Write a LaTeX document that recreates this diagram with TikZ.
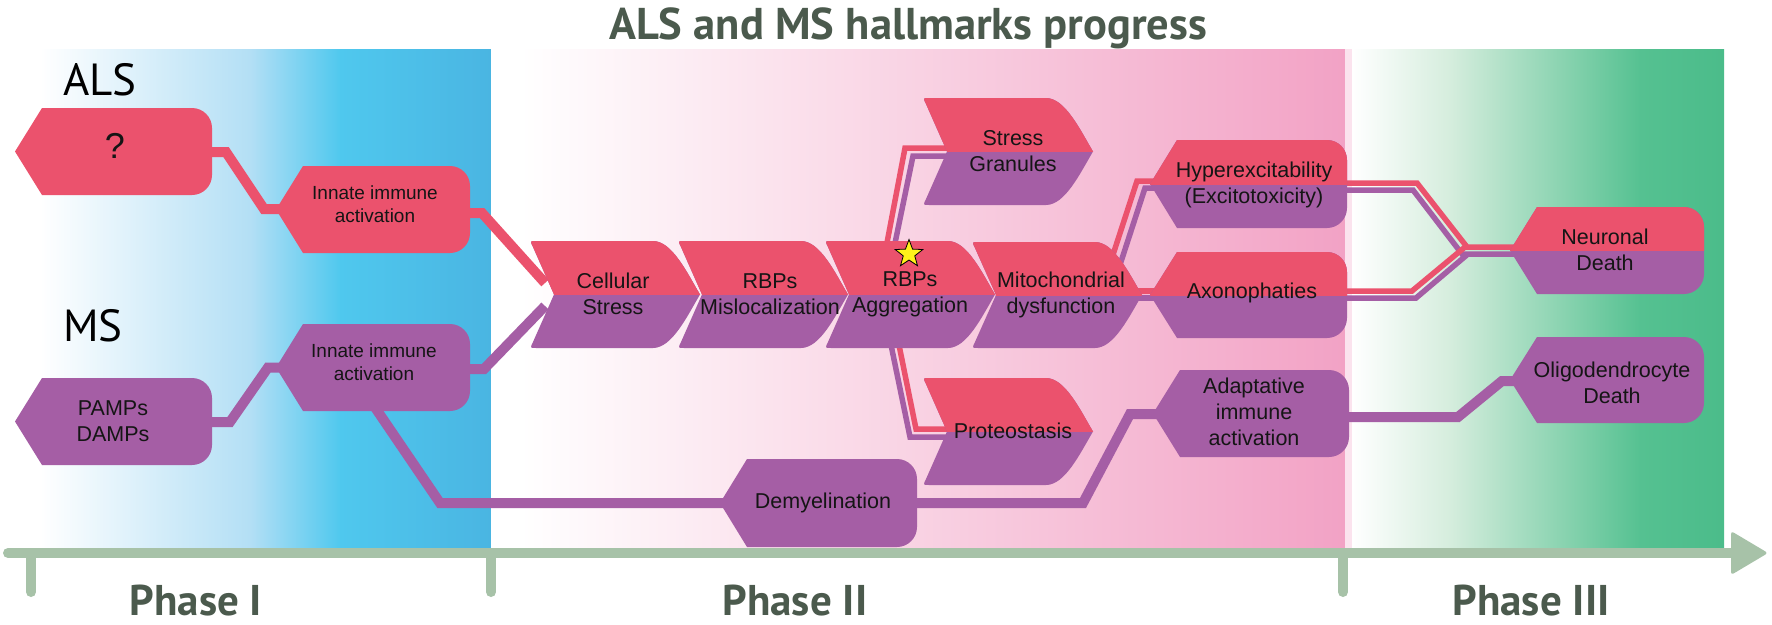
\documentclass[tikz,border=0pt]{standalone}
\usepackage{fontspec}
\setmainfont{Liberation Sans}
\newfontfamily\ptsans{PT Sans}
\usetikzlibrary{shapes.geometric}
\definecolor{alsred}{HTML}{EB526D}
\definecolor{mspurple}{HTML}{A55EA5}
\definecolor{axisgreen}{HTML}{A7C2A8}
\definecolor{darklabel}{HTML}{4B5A4D}
\definecolor{blueA}{HTML}{B3DFF5}
\definecolor{blueB}{HTML}{4FC8EE}
\definecolor{blueC}{HTML}{4AB5E2}
\definecolor{pinkB}{HTML}{F2A2C5}
\definecolor{pinkStrip}{HTML}{FBE3EE}
\definecolor{greenA}{HTML}{D5EDDD}
\definecolor{greenB}{HTML}{55C191}
\definecolor{greenC}{HTML}{4BBC8A}
\definecolor{txt}{HTML}{151515}
\definecolor{staryellow}{HTML}{FFF21A}

% hexagon-like node: left point, rounded right corners
\newcommand\hexfill[5]{%
  \fill[#5] ({#1+27},{#2}) -- ({#3-20},{#2}) arc[start angle=-90,end angle=0,radius=20]
    -- ({#3},{#4-20}) arc[start angle=0,end angle=90,radius=20]
    -- ({#1+27},{#4}) -- ({#1},{(#2+#4)/2}) -- cycle;}
\newcommand\hexbi[4]{%
  \hexfill{#1}{#2}{#3}{#4}{mspurple}%
  \begin{scope}\clip ({#1-5},{#2-5}) rectangle ({#3+5},{(#2+#4)/2});
  \hexfill{#1}{#2}{#3}{#4}{alsred}\end{scope}}
% chevron node: notch left, point right
\newcommand\chevfill[4]{%
  \fill[#4] ({#1+6},{#2}) -- ({#1+123},{#2})
    .. controls ({#1+142},{#2}) and ({#1+157},{(#2+#3)/2-22}) .. ({#1+170},{(#2+#3)/2})
    .. controls ({#1+157},{(#2+#3)/2+22}) and ({#1+142},{#3}) .. ({#1+123},{#3})
    -- ({#1+6},{#3}) .. controls ({#1},{#3}) .. ({#1+3},{#3-6})
    -- ({#1+24},{(#2+#3)/2}) -- ({#1+3},{#2+6}) .. controls ({#1},{#2}) .. ({#1+6},{#2}) -- cycle;}
\newcommand\chevbi[3]{%
  \chevfill{#1}{#2}{#3}{mspurple}%
  \begin{scope}\clip ({#1-5},{#2-5}) rectangle ({#1+180},{(#2+#3)/2});
  \chevfill{#1}{#2}{#3}{alsred}\end{scope}}

\tikzset{
  redline/.style={draw=alsred, line width=10pt},
  purline/.style={draw=mspurple, line width=10pt},
  redthin/.style={draw=alsred, line width=5.5pt},
  purthin/.style={draw=mspurple, line width=5.5pt},
  ntext/.style={font=\fontsize{21.5}{26}\selectfont, align=center, text=txt, inner sep=0},
  itext/.style={font=\fontsize{19}{23}\selectfont, align=center, text=txt, inner sep=0},
  phase/.style={font=\ptsans\bfseries\fontsize{43}{43}\selectfont, text=darklabel, anchor=base, inner sep=0},
  titletext/.style={font=\ptsans\bfseries\fontsize{44.5}{44.5}\selectfont, text=darklabel, anchor=base, inner sep=0},
  big/.style={font=\ptsans\fontsize{45}{45}\selectfont, text=black, anchor=base west, inner sep=0},
  axisline/.style={draw=axisgreen, line width=10pt, line cap=round},
}

\begin{document}
\begin{tikzpicture}[x=1pt,y=-1pt]
\useasboundingbox (0,0) rectangle (1772,624);
\fill[white] (0,0) rectangle (1772,624);

% ---- phase backgrounds ----
\fill[white] (0,49) rectangle (41,548);
\shade[left color=white,right color=blueA] (40,49) rectangle (251,548);
\shade[left color=blueA,right color=blueB] (250,49) rectangle (341,548);
\shade[left color=blueB,right color=blueC] (340,49) rectangle (491,548);
\fill[white] (491,49) rectangle (521,548);
\shade[left color=white,right color=pinkB] (520,49) rectangle (1345,548);
\fill[pinkStrip] (1345,49) rectangle (1352,548);
\shade[left color=white,right color=greenA] (1352,49) rectangle (1451,548);
\shade[left color=greenA,right color=greenB] (1450,49) rectangle (1641,548);
\shade[left color=greenB,right color=greenC] (1640,49) rectangle (1724,548);

% ---- title and labels ----
\node[titletext] (title) at (908,39) {ALS and MS hallmarks progress};
\node[big] (als) at (63,95) {ALS};
\node[big] (ms) at (63,341) {MS};

% ---- time axis ----
\draw[axisline] (8,553) -- (1745,553);
\fill[axisgreen, rounded corners=3] (1731,531) -- (1768,553) -- (1731,575) -- cycle;
\draw[axisline] (31,553) -- (31,592);
\draw[axisline] (491,553) -- (491,592);
\draw[axisline] (1343,553) -- (1343,592);
\node[phase] (p1) at (196,615) {Phase I};
\node[phase] (p2) at (795,615) {Phase II};
\node[phase] (p3) at (1531,615) {Phase III};

% ---- connector ports ----
\coordinate (q-out) at (205,152);
\coordinate (innA-in) at (282,209);
\coordinate (innA-out) at (465,213);
\coordinate (cell-inA) at (545,283);
\coordinate (pamps-out) at (205,422);
\coordinate (innM-in) at (282,367.5);
\coordinate (innM-out) at (465,369);
\coordinate (cell-inM) at (545,306);
\coordinate (innM-down) at (370,400);
\coordinate (demy-in) at (726,503);
\coordinate (demy-out) at (910,503);
\coordinate (adapt-in) at (1160,414);
\coordinate (adapt-out) at (1340,417);
\coordinate (oligo-in) at (1516,381);

% ---- single connectors ----
\draw[redline] (q-out) -- (226,152) -- (264,209) -- (innA-in);
\draw[redline] (innA-out) -- (482,213) -- (cell-inA);
\draw[purline] (pamps-out) -- (230,422) -- (268,367.5) -- (innM-in);
\draw[purline] (innM-out) -- (484,369) -- (cell-inM);
\draw[purline] (innM-down) -- (440,503) -- (demy-in);
\draw[purline] (demy-out) -- (1083,503) -- (1130,414) -- (adapt-in);
\draw[purline] (adapt-out) -- (1458,417) -- (1502,381) -- (oligo-in);

% ---- shared (double) connectors ----
\coordinate (aggr-upR) at (886,248);
\coordinate (aggr-upP) at (894,248);
\coordinate (sg-inR) at (952,148);
\coordinate (sg-inP) at (952,156);
\coordinate (aggr-dnP) at (890,340);
\coordinate (aggr-dnR) at (898,340);
\coordinate (prot-inR) at (952,429);
\coordinate (prot-inP) at (952,437);
\coordinate (mito-upR) at (1108,270);
\coordinate (mito-upP) at (1117,274);
\coordinate (hyp-inR) at (1156,181);
\coordinate (hyp-inP) at (1156,188);
\coordinate (mito-oR) at (1135,291);
\coordinate (mito-oP) at (1135,298);
\coordinate (axo-inR) at (1160,291);
\coordinate (axo-inP) at (1160,298);
\coordinate (hyp-oR) at (1340,183);
\coordinate (hyp-oP) at (1340,190);
\coordinate (axo-oR) at (1340,291);
\coordinate (axo-oP) at (1340,298);
\coordinate (neu-inR) at (1516,247);
\coordinate (neu-inP) at (1516,254);

\draw[purthin] (aggr-upP) -- (913,156) -- (sg-inP);
\draw[redthin] (aggr-upR) -- (905,148) -- (sg-inR);
\draw[purthin] (aggr-dnP) -- (910,437) -- (prot-inP);
\draw[redthin] (aggr-dnR) -- (916,429) -- (prot-inR);
\draw[purthin] (mito-upP) -- (1145,188) -- (hyp-inP);
\draw[redthin] (mito-upR) -- (1137,181) -- (hyp-inR);
\draw[purthin] (mito-oP) -- (axo-inP);
\draw[redthin] (mito-oR) -- (axo-inR);
\draw[purthin] (hyp-oP) -- (1413,190) -- (1462,254) -- (neu-inP);
\draw[purthin] (axo-oP) -- (1416,298) -- (1468,254);
\draw[redthin] (hyp-oR) -- (1417,183) -- (1467,247) -- (neu-inR);
\draw[redthin] (axo-oR) -- (1412,291) -- (1465,247);

% ---- node shapes ----
\hexfill{15}{108}{212}{195}{alsred}
\hexfill{276}{166}{470}{253}{alsred}
\hexfill{276}{324}{470}{411}{mspurple}
\hexfill{15}{378}{212}{465}{mspurple}
\hexfill{720}{459}{917}{547}{mspurple}
\hexbi{1150}{140}{1347}{228}
\hexbi{1150}{252}{1347}{338}
\hexfill{1153}{370}{1349}{457}{mspurple}
\hexbi{1510}{207}{1704}{294}
\hexfill{1510}{337}{1704}{423}{mspurple}
\chevbi{530}{241}{348}
\chevbi{678}{241}{348}
\chevbi{825}{241}{348}
\chevbi{972}{242}{348}
\chevbi{923}{98}{205}
\chevbi{923}{378}{485}

% ---- node texts ----
\node[ntext, font=\fontsize{36}{36}\selectfont] (q) at (115,146) {?};
\node[itext] (innA) at (375,204) {Innate immune\\activation};
\node[itext] (innM) at (374,362) {Innate immune\\activation};
\node[ntext] (pamps) at (113,421) {PAMPs\\DAMPs};
\node[ntext] (cell) at (613,294) {Cellular\\Stress};
\node[ntext] (misl) at (770,294) {RBPs\\Mislocalization};
\node[ntext] (aggr) at (910,294) {RBPs\\Aggregation};
\node[ntext] (mito) at (1061,295) {Mitochondrial\\dysfunction};
\node[ntext] (sg) at (1013,151) {Stress\\Granules};
\node[ntext] (prot) at (1013,431) {Proteostasis};
\node[ntext] (demy) at (823,503) {Demyelination};
\node[ntext] (hyp) at (1254,185) {Hyperexcitability\\(Excitotoxicity)};
\node[ntext] (axo) at (1252,293) {Axonophaties};
\node[ntext] (adapt) at (1254,412) {Adaptative\\immune\\activation};
\node[ntext] (neu) at (1605,250) {Neuronal\\Death};
\node[ntext] (oligo) at (1612,383) {Oligodendrocyte\\Death};
\node[star, star points=5, star point ratio=2.4, minimum size=29, inner sep=0,
      fill=staryellow, draw=black, line width=0.8pt] (star) at (909,254) {};
\end{tikzpicture}
\end{document}
